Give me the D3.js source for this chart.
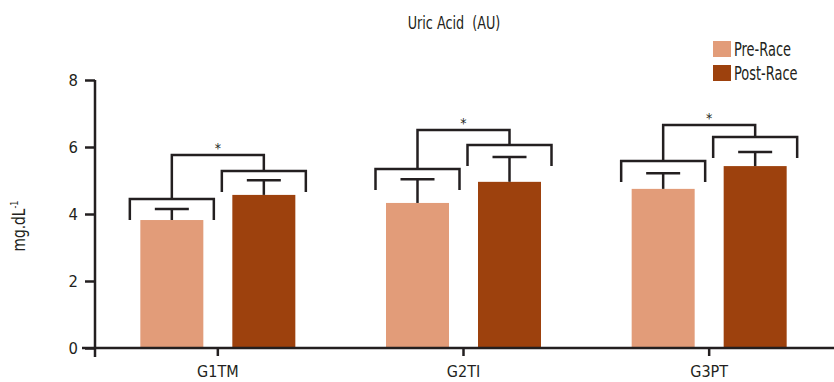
<!DOCTYPE html>
<html>
<head>
<meta charset="utf-8">
<script src="https://cdn.jsdelivr.net/npm/d3@7"></script>
<style>
  body { margin: 0; background: #fff; }
  svg text { font-family: "Liberation Sans Narrow", "DejaVu Sans Condensed", "DejaVu Sans", sans-serif; font-stretch: condensed; }
</style>
</head>
<body>
<svg id="chart" width="834" height="382"></svg>
<script>
// data
const groups = ["G1TM", "G2TI", "G3PT"];
const series = ["Pre-Race", "Post-Race"];
const preMean = [3.82, 4.33, 4.75];
const postMean = [4.57, 4.96, 5.43];
const preSD = [0.33, 0.71, 0.47];
const postSD = [0.44, 0.74, 0.42];
// significance bracket levels (mg.dL-1)
const preBracket = [4.45, 5.34, 5.58];
const postBracket = [5.28, 6.06, 6.30];
const topBracket = [5.76, 6.51, 6.66];
const yTicks = [0, 2, 4, 6, 8];

const colors = { "Pre-Race": "#e29c79", "Post-Race": "#9d410d" };
const ink = "#231f20";

const svg = d3.select("#chart");
const margin = { top: 80, right: 2, bottom: 34, left: 95 };
const W = 834, H = 382;

// squeeze text horizontally to mimic the narrow face of the original
function squeeze(sel, x, y, sx) {
  sel.attr("x", 0).attr("y", 0)
    .attr("transform", `translate(${x},${y}) scale(${sx},1)`);
}

const y = d3.scaleLinear().domain([0, 8]).range([H - margin.bottom, margin.top]);
const x = d3.scaleBand().domain(groups).range([margin.left, W - margin.right]);
const sub = d3.scaleBand().domain(series).range([-77.5, 77.5]).paddingInner(29 / 92).paddingOuter(0);

const g = svg.append("g");

groups.forEach((grp, i) => {
  const vals = [preMean[i], postMean[i]];
  const sds = [preSD[i], postSD[i]];
  const center = x(grp) + x.bandwidth() / 2;
  series.forEach((s, j) => {
    const left = center + sub(s);
    g.append("rect")
      .attr("x", left)
      .attr("y", y(vals[j]))
      .attr("width", sub.bandwidth())
      .attr("height", y(0) - y(vals[j]))
      .attr("fill", colors[s]);
    const mid = left + sub.bandwidth() / 2;
    // error bar, upper side only
    g.append("line")
      .attr("x1", mid).attr("x2", mid)
      .attr("y1", y(vals[j])).attr("y2", y(vals[j] + sds[j]))
      .attr("stroke", ink).attr("stroke-width", 2.5);
    g.append("line")
      .attr("x1", mid - 17).attr("x2", mid + 17)
      .attr("y1", y(vals[j] + sds[j])).attr("y2", y(vals[j] + sds[j]))
      .attr("stroke", ink).attr("stroke-width", 2.5);
  });

  // brackets
  const preMid = center + sub("Pre-Race") + sub.bandwidth() / 2;
  const postMid = center + sub("Post-Race") + sub.bandwidth() / 2;
  const leg = 21, half = 42;
  [[preMid, preBracket[i]], [postMid, postBracket[i]]].forEach(([m, v]) => {
    g.append("path")
      .attr("d", `M${m - half},${y(v) + leg}V${y(v)}H${m + half}V${y(v) + leg}`)
      .attr("fill", "none").attr("stroke", ink).attr("stroke-width", 2.5);
  });
  g.append("path")
    .attr("d", `M${preMid},${y(preBracket[i])}V${y(topBracket[i])}H${postMid}V${y(postBracket[i])}`)
    .attr("fill", "none").attr("stroke", ink).attr("stroke-width", 2.5);
  g.append("text")
    .attr("x", (preMid + postMid) / 2)
    .attr("y", y(topBracket[i]) - 2)
    .attr("text-anchor", "middle")
    .attr("font-size", 14)
    .attr("fill", ink)
    .text("*");
});

// y axis
const yAxis = svg.append("g")
  .attr("transform", `translate(${margin.left},0)`)
  .call(d3.axisLeft(y).tickValues(yTicks).tickSize(10).tickPadding(7));
yAxis.select(".domain").remove();
yAxis.append("line")
  .attr("x1", 0).attr("x2", 0)
  .attr("y1", y(8)).attr("y2", y(0) + 9)
  .attr("stroke", ink).attr("stroke-width", 2.5);
yAxis.selectAll(".tick line").attr("stroke", ink).attr("stroke-width", 2.5);
yAxis.selectAll(".tick text").attr("font-size", 16.5).attr("fill", ink).attr("font-family", null);

// x axis
const xAxis = svg.append("g")
  .attr("transform", `translate(0,${y(0)})`)
  .call(d3.axisBottom(x).tickSize(8).tickPadding(10));
xAxis.select(".domain").remove();
xAxis.append("line")
  .attr("x1", margin.left - 13).attr("x2", W)
  .attr("y1", 0).attr("y2", 0)
  .attr("stroke", ink).attr("stroke-width", 2.5);
xAxis.selectAll(".tick line").attr("stroke", ink).attr("stroke-width", 2.5);
xAxis.selectAll(".tick text").attr("font-size", 16).attr("fill", ink).attr("font-family", null);

// y label
const yl = svg.append("text")
  .attr("transform", `translate(25,226) rotate(-90) scale(0.9,1)`)
  .attr("text-anchor", "middle")
  .attr("font-size", 17)
  .attr("fill", ink);
yl.append("tspan").text("mg.dL");
yl.append("tspan").attr("dy", -7).attr("font-size", 10).text("-1");

// title
svg.append("text")
  .attr("text-anchor", "middle")
  .attr("font-size", 18)
  .attr("fill", ink)
  .attr("xml:space", "preserve")
  .text("Uric Acid  (AU)")
  .call(squeeze, 454, 29, 0.79);

// legend
const legend = svg.append("g").attr("transform", "translate(713,41)");
series.forEach((s, i) => {
  const row = legend.append("g").attr("transform", `translate(0,${i * 24})`);
  row.append("rect").attr("width", 18).attr("height", 16).attr("fill", colors[s]);
  row.append("text")
    .attr("font-size", 19).attr("fill", ink).text(s)
    .call(squeeze, 21, 15, 0.76);
});
</script>
</body>
</html>
